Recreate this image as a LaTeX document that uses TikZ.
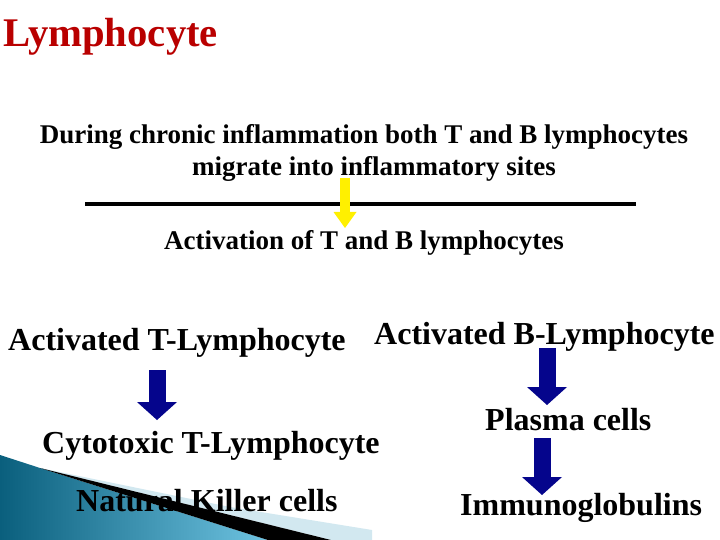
\documentclass[tikz,border=0pt]{standalone}
\usepackage{fontspec}
\setmainfont{Liberation Serif}
\usetikzlibrary{arrows.meta,positioning}
\definecolor{lyred}{RGB}{185,0,0}
\definecolor{lyblue}{RGB}{5,5,140}
\definecolor{lyyellow}{RGB}{255,240,0}
\definecolor{lytealdark}{RGB}{10,95,125}
\definecolor{lyteallight}{RGB}{110,195,225}
\definecolor{lypale}{RGB}{210,232,240}
\tikzset{
  bigtext/.style={font=\fontsize{32}{36}\selectfont\bfseries, inner sep=0pt},
  midtext/.style={font=\fontsize{27}{31}\selectfont\bfseries, inner sep=0pt},
  blockarrow/.style={lyblue, line width=17pt,
    -{Triangle[length=18pt,width=40pt,line width=0pt]}},
  yellowarrow/.style={lyyellow, line width=10pt,
    -{Triangle[length=16pt,width=23pt,line width=0pt]}}
}
\begin{document}
\begin{tikzpicture}[x=1pt, y=-1pt]
\useasboundingbox[fill=white] (0,0) rectangle (720,540);

% --- Decorative wedge, bottom left ---
\fill[lypale] (40,468) -- (230,507) -- (372,530) -- (372,540) -- (331,540) -- cycle;
\shade[left color=lytealdark, right color=lyteallight] (0,455) -- (40,468) -- (268,540) -- (0,540) -- cycle;
\fill[black] (40,468) -- (331,540) -- (268,540) -- cycle;

% --- Title ---
\node[font=\fontsize{40.7}{44}\selectfont\bfseries, lyred, inner sep=0pt, anchor=base west] (title) at (3,47) {Lymphocyte};

% --- Introduction ---
\node[midtext, anchor=base] (during) at (364,144) {During chronic inflammation both T and B lymphocytes};
\node[midtext, anchor=base] (migrate) at (374,176) {migrate into inflammatory sites};
\draw[line width=4pt] (85,204) coordinate (ruleL) -- (636,204) coordinate (ruleR);
\coordinate (ytop) at (345,178);
\coordinate (ytip) at (345,228);
\draw[yellowarrow] (ytop) -- (ytip);
\node[midtext, anchor=base] (activation) at (364,249) {Activation of T and B lymphocytes};

% --- T-lymphocyte branch ---
\node[bigtext, anchor=base west] (actT) at (8,350) {Activated T-Lymphocyte};
\coordinate (ttop) at (157,370);
\coordinate (ttip) at (157,420);
\draw[blockarrow] (ttop) -- (ttip);
\node[bigtext, anchor=base west] (cyto) at (42,453) {Cytotoxic T-Lymphocyte};
\node[bigtext, anchor=base west] (nk) at (76,511) {Natural Killer cells};

% --- B-lymphocyte branch ---
\node[bigtext, anchor=base west] (actB) at (374,344) {Activated B-Lymphocyte};
\coordinate (btop) at (547,348);
\coordinate (btip) at (547,405);
\draw[blockarrow] (btop) -- (btip);
\node[bigtext, anchor=base west] (plasma) at (485,430) {Plasma cells};
\coordinate (ptop) at (542,438);
\coordinate (ptip) at (542,495);
\draw[blockarrow] (ptop) -- (ptip);
\node[bigtext, anchor=base west] (immuno) at (460,515) {Immunoglobulins};

\end{tikzpicture}
\end{document}
